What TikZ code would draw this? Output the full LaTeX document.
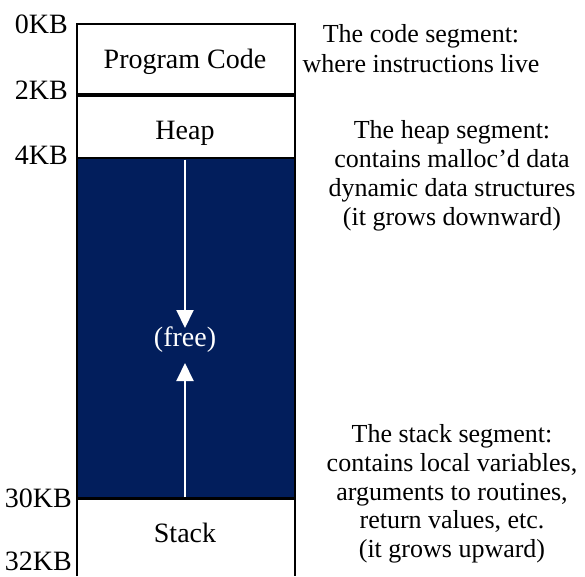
\documentclass[tikz,border=0pt]{standalone}
\usepackage{fontspec}
\setmainfont{Liberation Serif}
\usetikzlibrary{arrows.meta}
\definecolor{navy}{RGB}{2,30,92}
\begin{document}
\begin{tikzpicture}[x=1pt,y=1pt,
  lbl/.style={font=\fontsize{28}{32}\selectfont, inner sep=0pt, anchor=base east},
  seg/.style={font=\fontsize{28}{32}\selectfont, inner sep=0pt, anchor=base},
  note/.style={font=\fontsize{26}{29}\selectfont, inner sep=0pt, anchor=base},
  wall/.style={line width=2.5pt},
  growarrow/.style={draw=white, line width=2pt, -{Triangle[width=17pt,length=18pt]}}]
\useasboundingbox (0,0) rectangle (585,-576);
% free region
\fill[navy] (77,-158) rectangle (295,-498);
% outline
\draw[wall] (77,-576) -- (77,-24) -- (295,-24) -- (295,-576);
\draw[line width=4pt] (77,-95) -- (295,-95);
\draw[wall] (77,-158) -- (295,-158);
\draw[wall] (77,-498.5) -- (295,-498.5);
% address labels
\node[lbl] (k0) at (68,-33) {0KB};
\node[lbl] (k2) at (68,-99) {2KB};
\node[lbl] (k4) at (68,-164) {4KB};
\node[lbl] (k30) at (72,-507) {30KB};
\node[lbl] (k32) at (72,-570) {32KB};
% segment labels
\node[seg] (code) at (185,-68) {Program Code};
\node[seg] (heap) at (185,-139) {Heap};
\node[seg,text=white] (free) at (185,-346) {(free)};
\node[seg] (stack) at (185,-542) {Stack};
% arrows
\coordinate (hs) at (185,-159.5);
\coordinate (ht) at (185,-328);
\coordinate (ss) at (185,-497);
\coordinate (st) at (185,-363);
\draw[growarrow] (hs) -- (ht);
\draw[growarrow] (ss) -- (st);
% annotations
\node[note] (c1) at (421,-42) {The code segment:};
\node[note] (c2) at (421,-72) {where instructions live};
\node[note] (h1) at (452,-138) {The heap segment:};
\node[note] (h2) at (452,-167) {contains malloc’d data};
\node[note] (h3) at (452,-196) {dynamic data structures};
\node[note] (h4) at (452,-225) {(it grows downward)};
\node[note] (s1) at (452,-442) {The stack segment:};
\node[note] (s2) at (452,-471) {contains local variables,};
\node[note] (s3) at (452,-500) {arguments to routines,};
\node[note] (s4) at (452,-528) {return values, etc.};
\node[note] (s5) at (452,-557) {(it grows upward)};
\end{tikzpicture}
\end{document}
